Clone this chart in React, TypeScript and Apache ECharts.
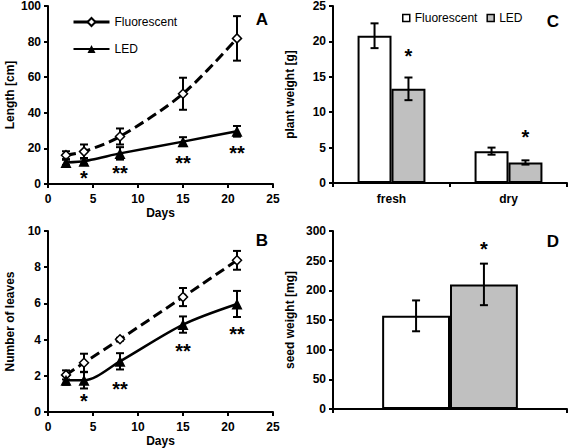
import React, { useEffect, useRef } from 'react';
import * as echarts from 'echarts';

// ---------------- data ----------------
const days = [2, 4, 8, 15, 21];

const lengthFluor = [16.2, 18.2, 26.7, 50.7, 81.8];
const lengthFluorErr = [2.2, 4, 4.5, 9, 12.5];
const lengthLED = [12.1, 12.8, 17.2, 23.8, 29.6];
const lengthLEDErr = [1.5, 1.8, 3.5, 2.5, 3];
const lengthSig = ['', '*', '**', '**', '**'];
const lengthSigY = [0, 6.1, 8.9, 14.4, 20];

const leavesFluor = [2.05, 2.72, 4.02, 6.35, 8.38];
const leavesFluorErr = [0.25, 0.5, 0.08, 0.5, 0.52];
const leavesLED = [1.75, 1.75, 2.8, 4.83, 5.97];
const leavesLEDErr = [0.25, 0.45, 0.45, 0.45, 0.72];
const leavesSig = ['', '*', '**', '**', '**'];
const leavesSigY = [0, 0.9, 1.56, 3.67, 4.56];

const weightCats = ['fresh', 'dry'];
const weightFluor = [20.8, 4.5];
const weightFluorErr = [1.75, 0.5];
const weightLED = [13.3, 2.9];
const weightLEDErr = [1.6, 0.3];
const weightSig = ['*', '*'];
const weightSigY = [18.7, 7.2];

const seedCats = [''];
const seedFluor = [157];
const seedFluorErr = [26];
const seedLED = [210];
const seedLEDErr = [35];
const seedSig = ['*'];
const seedSigY = [278];

const seriesNames = ['Fluorescent', 'LED'];

// ---------------- styles ----------------
const FONT = "'Liberation Sans', Arial, Helvetica, sans-serif";
const BAR_GAP_FRAC = 0.42;
const W = 568;
const H = 448;

const axisCommon = {
  axisLine: { show: true, lineStyle: { color: '#000', width: 2 } },
  axisTick: { show: true, inside: false, length: 4, lineStyle: { color: '#000', width: 2 } },
  splitLine: { show: false },
  nameTextStyle: { color: '#000', fontSize: 12, fontWeight: 'bold', fontFamily: FONT },
};
const labelStyle = { color: '#000', fontSize: 12, lineHeight: 12, fontWeight: 'bold', fontFamily: FONT };

function errorLines(cx: number, yTop: number, yBot: number, cap: number) {
  const st = { stroke: '#000', lineWidth: 2 };
  return {
    type: 'group',
    children: [
      { type: 'line', shape: { x1: cx, y1: yTop, x2: cx, y2: yBot }, style: st },
      { type: 'line', shape: { x1: cx - cap, y1: yTop, x2: cx + cap, y2: yTop }, style: st },
      { type: 'line', shape: { x1: cx - cap, y1: yBot, x2: cx + cap, y2: yBot }, style: st },
    ],
  };
}

function lineErrSeries(vals: number[], errs: number[]) {
  return {
    type: 'custom',
    z: 1,
    silent: true,
    data: days.map((d, i) => [d, vals[i] - errs[i], vals[i] + errs[i]]),
    encode: { x: 0, y: [1, 2] },
    renderItem: (params: any, api: any) => {
      const top = api.coord([api.value(0), api.value(2)]);
      const bot = api.coord([api.value(0), api.value(1)]);
      return errorLines(top[0], top[1], bot[1], 4);
    },
  };
}

function barErrSeries(vals: number[], errs: number[], side: number) {
  return {
    type: 'custom',
    z: 5,
    silent: true,
    data: vals.map((v, i) => [i, v - errs[i], v + errs[i]]),
    encode: { x: 0, y: [1, 2] },
    renderItem: (params: any, api: any) => {
      const band = api.size([1, 0])[0];
      const bw = (band * (1 - BAR_GAP_FRAC)) / 2;
      const top = api.coord([api.value(0), api.value(2)]);
      const bot = api.coord([api.value(0), api.value(1)]);
      return errorLines(top[0] + (side * bw) / 2, top[1], bot[1], 4);
    },
  };
}

function sigSeries(xs: number[], ys: number[], texts: string[], side: number) {
  const idx = texts.map((t, i) => i).filter((i) => texts[i] !== '');
  return {
    type: 'custom',
    z: 6,
    silent: true,
    data: idx.map((i) => [xs[i], ys[i]]),
    encode: { x: 0, y: 1 },
    renderItem: (params: any, api: any) => {
      const p = api.coord([api.value(0), api.value(1)]);
      let dx = 0;
      if (side !== 0) {
        const band = api.size([1, 0])[0];
        const bw = (band * (1 - BAR_GAP_FRAC)) / 2;
        dx = (side * bw) / 2;
      }
      return {
        type: 'text',
        x: p[0] + dx,
        y: p[1] + 5,
        style: {
          text: texts[idx[params.dataIndex]],
          fill: '#000',
          fontSize: 20,
          fontWeight: 'bold',
          fontFamily: FONT,
          align: 'center',
          verticalAlign: 'middle',
        },
      };
    },
  };
}

function letter(text: string, x: number, y: number) {
  return {
    type: 'text',
    x,
    y,
    style: {
      text,
      fill: '#000',
      fontSize: 17,
      fontWeight: 'bold',
      fontFamily: FONT,
      align: 'center',
      verticalAlign: 'middle',
    },
  };
}

function lineOption(opts: {
  left: number;
  top: number;
  height: number;
  yMax: number;
  yInterval: number;
  yName: string;
  fluor: number[];
  fluorErr: number[];
  led: number[];
  ledErr: number[];
  sig: string[];
  sigY: number[];
  letterText: string;
  letterX: number;
  letterY: number;
  legend: boolean;
  smoothF: number;
  smoothL: number;
}) {
  return {
    animation: false,
    textStyle: { fontFamily: FONT },
    grid: {
      left: opts.left,
      top: opts.top,
      width: 225,
      height: opts.height,
      containLabel: false,
      outerBoundsMode: 'none',
    },
    xAxis: {
      type: 'value',
      min: 0,
      max: 25,
      interval: 5,
      name: 'Days',
      nameLocation: 'middle',
      nameGap: 23,
      ...axisCommon,
      axisLabel: { ...labelStyle, margin: 9 },
    },
    yAxis: {
      type: 'value',
      min: 0,
      max: opts.yMax,
      interval: opts.yInterval,
      name: opts.yName,
      nameLocation: 'middle',
      nameGap: 32,
      ...axisCommon,
      axisLabel: { ...labelStyle, margin: 7 },
    },
    legend: opts.legend
      ? {
          orient: 'vertical',
          left: opts.left + 19,
          top: 11,
          itemWidth: 36,
          itemHeight: 10,
          itemGap: 15,
          textStyle: { color: '#000', fontSize: 12, fontFamily: FONT },
          data: [
            { name: seriesNames[0], lineStyle: { type: 'solid', width: 3 } },
            { name: seriesNames[1] },
          ],
        }
      : { show: false },
    graphic: [letter(opts.letterText, opts.letterX, opts.letterY)],
    series: [
      lineErrSeries(opts.fluor, opts.fluorErr),
      lineErrSeries(opts.led, opts.ledErr),
      {
        name: seriesNames[0],
        type: 'line',
        z: 3,
        data: days.map((d, i) => [d, opts.fluor[i]]),
        smooth: opts.smoothF,
        symbol: 'diamond',
        symbolSize: 9,
        lineStyle: { color: '#000', width: 3, type: [10, 5] },
        itemStyle: { color: '#fff', borderColor: '#000', borderWidth: 1.5 },
      },
      {
        name: seriesNames[1],
        type: 'line',
        z: 3,
        data: days.map((d, i) => [d, opts.led[i]]),
        smooth: opts.smoothL,
        symbol: 'triangle',
        symbolSize: 11,
        lineStyle: { color: '#000', width: 2.5 },
        itemStyle: { color: '#000', borderColor: '#000', borderWidth: 0 },
      },
      sigSeries(days, opts.sigY, opts.sig, 0),
    ],
  };
}

function barOption(opts: {
  left: number;
  top: number;
  height: number;
  cats: string[];
  yMax: number;
  yInterval: number;
  yName: string;
  fluor: number[];
  fluorErr: number[];
  led: number[];
  ledErr: number[];
  sig: string[];
  sigY: number[];
  letterText: string;
  letterX: number;
  letterY: number;
  legend: boolean;
}) {
  return {
    animation: false,
    textStyle: { fontFamily: FONT },
    grid: {
      left: opts.left,
      top: opts.top,
      width: 234,
      height: opts.height,
      containLabel: false,
      outerBoundsMode: 'none',
    },
    xAxis: {
      type: 'category',
      data: opts.cats,
      ...axisCommon,
      axisTick: { ...axisCommon.axisTick, alignWithLabel: false },
      axisLabel: { ...labelStyle, margin: 10 },
    },
    yAxis: {
      type: 'value',
      min: 0,
      max: opts.yMax,
      interval: opts.yInterval,
      name: opts.yName,
      nameLocation: 'middle',
      nameGap: 37,
      ...axisCommon,
      axisLabel: { ...labelStyle, margin: 7 },
    },
    legend: opts.legend
      ? {
          orient: 'horizontal',
          left: opts.left + 64,
          top: 7,
          itemWidth: 7,
          itemHeight: 7,
          itemGap: 9,
          textStyle: { color: '#000', fontSize: 12, fontFamily: FONT },
          data: [
            { name: seriesNames[0], icon: 'rect', itemStyle: { borderWidth: 1.5 } },
            { name: seriesNames[1], icon: 'rect', itemStyle: { borderWidth: 1.5 } },
          ],
        }
      : { show: false },
    graphic: [letter(opts.letterText, opts.letterX, opts.letterY)],
    series: [
      {
        name: seriesNames[0],
        type: 'bar',
        data: opts.fluor,
        barGap: '0%',
        barCategoryGap: `${BAR_GAP_FRAC * 100}%`,
        itemStyle: { color: '#ffffff', borderColor: '#000', borderWidth: 2 },
      },
      {
        name: seriesNames[1],
        type: 'bar',
        data: opts.led,
        barGap: '0%',
        barCategoryGap: `${BAR_GAP_FRAC * 100}%`,
        itemStyle: { color: '#c0c0c0', borderColor: '#000', borderWidth: 2 },
      },
      barErrSeries(opts.fluor, opts.fluorErr, -1),
      barErrSeries(opts.led, opts.ledErr, 1),
      sigSeries(opts.cats.map((c, i) => i), opts.sigY, opts.sig, 1),
    ],
  };
}

function Panel(props: { option: any }) {
  const ref = useRef<HTMLDivElement>(null);
  useEffect(() => {
    if (!ref.current) return;
    const chart = echarts.init(ref.current, undefined, { renderer: 'svg' });
    chart.setOption(props.option);
    return () => chart.dispose();
  }, []);
  return (
    <div
      ref={ref}
      style={{ position: 'absolute', left: 0, top: 0, width: W, height: H }}
    />
  );
}

export default function App() {
  const optA = lineOption({
    left: 48,
    top: 6,
    height: 178,
    yMax: 100,
    yInterval: 20,
    yName: 'Length [cm]',
    fluor: lengthFluor,
    fluorErr: lengthFluorErr,
    led: lengthLED,
    ledErr: lengthLEDErr,
    sig: lengthSig,
    sigY: lengthSigY,
    letterText: 'A',
    letterX: 262,
    letterY: 19,
    legend: true,
    smoothF: 0.3,
    smoothL: 0.15,
  });
  const optB = lineOption({
    left: 48,
    top: 231,
    height: 181,
    yMax: 10,
    yInterval: 2,
    yName: 'Number of leaves',
    fluor: leavesFluor,
    fluorErr: leavesFluorErr,
    led: leavesLED,
    ledErr: leavesLEDErr,
    sig: leavesSig,
    sigY: leavesSigY,
    letterText: 'B',
    letterX: 262,
    letterY: 240,
    legend: false,
    smoothF: 0.2,
    smoothL: 0.3,
  });
  const optC = barOption({
    left: 333,
    top: 6,
    height: 177,
    cats: weightCats,
    yMax: 25,
    yInterval: 5,
    yName: 'plant weight [g]',
    fluor: weightFluor,
    fluorErr: weightFluorErr,
    led: weightLED,
    ledErr: weightLEDErr,
    sig: weightSig,
    sigY: weightSigY,
    letterText: 'C',
    letterX: 553,
    letterY: 21,
    legend: true,
  });
  const optD = barOption({
    left: 333,
    top: 231,
    height: 178,
    cats: seedCats,
    yMax: 300,
    yInterval: 50,
    yName: 'seed weight [mg]',
    fluor: seedFluor,
    fluorErr: seedFluorErr,
    led: seedLED,
    ledErr: seedLEDErr,
    sig: seedSig,
    sigY: seedSigY,
    letterText: 'D',
    letterX: 553,
    letterY: 241,
    legend: false,
  });
  return (
    <div style={{ position: 'fixed', left: 0, top: 0, width: W, height: H, background: '#fff' }}>
      <Panel option={optA} />
      <Panel option={optC} />
      <Panel option={optB} />
      <Panel option={optD} />
    </div>
  );
}
